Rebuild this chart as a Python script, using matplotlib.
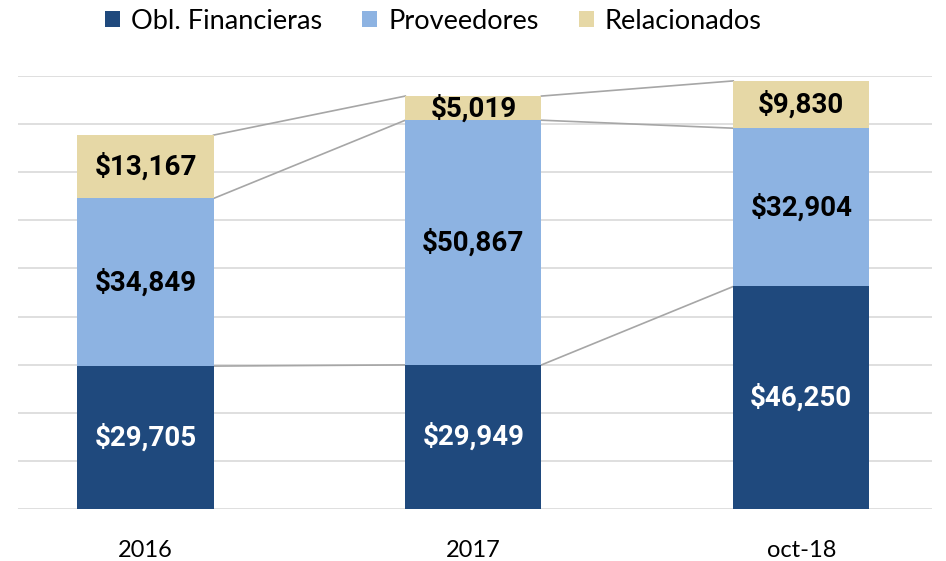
import numpy as np
import matplotlib
matplotlib.use('Agg')
import matplotlib.pyplot as plt

# chart data
categories = ['2016', '2017', 'oct-18']
series_names = ['Obl. Financieras', 'Proveedores', 'Relacionados']
obl_financieras = [29705, 29949, 46250]
proveedores = [34849, 50867, 32904]
relacionados = [13167, 5019, 9830]

colors = ['#1F497D', '#8DB3E2', '#E6D8A6']
label_colors = ['white', 'black', 'black']

plt.rcParams['font.family'] = ['Lato', 'DejaVu Sans']

fig = plt.figure(figsize=(9.46, 5.61), dpi=100)
ax = fig.add_axes([0.019, 0.0927, 0.966, 0.7718])

x = np.arange(len(categories))
width = 0.415
data = [obl_financieras, proveedores, relacionados]
bottom = np.zeros(len(categories))
tops = []
for vals, name, col, lc in zip(data, series_names, colors, label_colors):
    vals = np.array(vals, dtype=float)
    ax.bar(x, vals, width, bottom=bottom, color=col, label=name, zorder=3)
    for xi, b, v in zip(x, bottom, vals):
        ax.text(xi, b + v / 2, '${:,.0f}'.format(v), ha='center', va='center',
                color=lc, fontsize=20, fontweight='bold',
                family=['Roboto', 'DejaVu Sans'], zorder=5)
    bottom = bottom + vals
    tops.append(bottom.copy())

# series lines between bars
for t in tops:
    for i in range(len(categories) - 1):
        ax.plot([x[i] + width / 2, x[i + 1] - width / 2], [t[i], t[i + 1]],
                color='#A6A6A6', lw=1.2, zorder=2)

ax.set_ylim(0, 90000)
ax.set_xlim(-0.389, 2.398)
ax.set_yticks(np.arange(0, 90001, 10000))
ax.yaxis.grid(True, color='#D9D9D9', lw=1.2, zorder=0)
ax.tick_params(axis='y', left=False, labelleft=False)
ax.tick_params(axis='x', length=0, labelsize=17, pad=22)
ax.set_xticks(x)
ax.set_xticklabels(categories)
for s in ax.spines.values():
    s.set_visible(False)

fig.legend(loc='center', bbox_to_anchor=(0.458, 0.962), ncol=3, frameon=False,
           fontsize=19.5, handlelength=0.55, handleheight=0.55, handletextpad=0.4,
           columnspacing=1.5, borderpad=0)

fig.savefig('out.png', dpi=100)
